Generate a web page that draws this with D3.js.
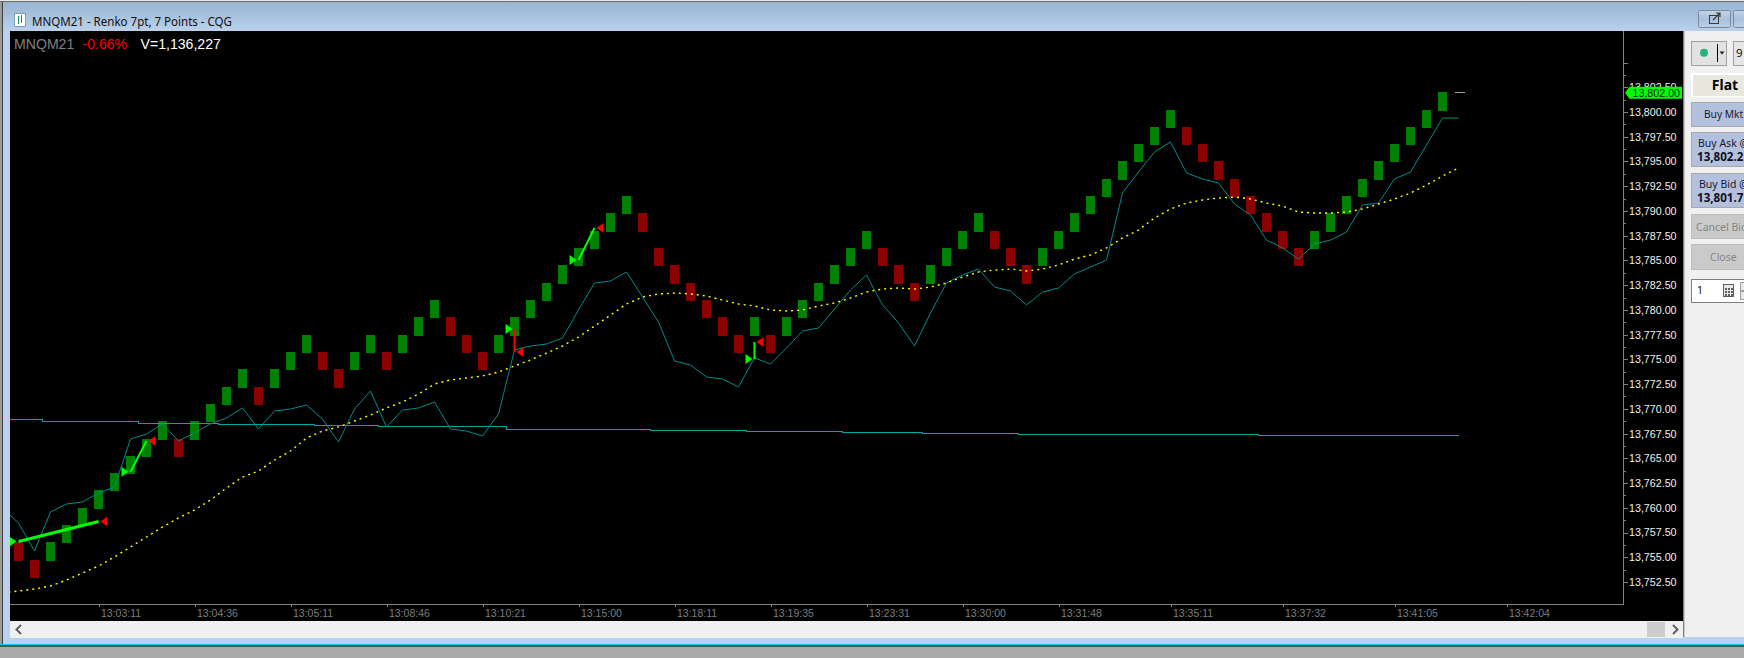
<!DOCTYPE html>
<html><head><meta charset="utf-8">
<style>html,body{margin:0;padding:0;background:#ababab;overflow:hidden}svg{display:block}</style>
<script src="https://cdn.jsdelivr.net/npm/d3@7/dist/d3.min.js"></script>
</head><body><div id="chart"></div>
<script>
// ---- chart values ----
const symbolName = "MNQM21";
const titleText = "MNQM21 - Renko 7pt, 7 Points - CQG";
const changeText = "-0.66%";
const volumeText = "V=1,136,227";
const lastPrice = 13802.00;
const brickSize = 1.75;
// top price of each Renko brick, left to right
const brickTop = [13756.5,13754.75,13756.5,13758.25,13760,13761.75,13763.5,13765.25,13767,13768.75,
13767,13768.75,13770.5,13772.25,13774,13772.25,13774,13775.75,13777.5,13775.75,
13774,13775.75,13777.5,13775.75,13777.5,13779.25,13781,13779.25,13777.5,13775.75,
13777.5,13779.25,13781,13782.75,13784.5,13786.25,13788,13789.75,13791.5,13789.75,
13786.25,13784.5,13782.75,13781,13779.25,13777.5,13779.25,13777.5,13779.25,13781,
13782.75,13784.5,13786.25,13788,13786.25,13784.5,13782.75,13784.5,13786.25,13788,
13789.75,13788,13786.25,13784.5,13786.25,13788,13789.75,13791.5,13793.25,13795,
13796.75,13798.5,13800.25,13798.5,13796.75,13795,13793.25,13791.5,13789.75,13788,
13786.25,13788,13789.75,13791.5,13793.25,13795,13796.75,13798.5,13800.25,13802];
// brick direction: 1 up (green), 0 down (red)
const brickUp = [0,0,1,1,1,1,1,1,1,1, 0,1,1,1,1,0,1,1,1,0, 0,1,1,0,1,1,1,0,0,0,
1,1,1,1,1,1,1,1,1,0, 0,0,0,0,0,0,1,0,1,1, 1,1,1,1,0,0,0,1,1,1,
1,0,0,0,1,1,1,1,1,1, 1,1,1,0,0,0,0,0,0,0, 0,1,1,1,1,1,1,1,1,1];
// fast average (thin teal), starting one slot before the first brick
const fastAverage = [13759.98,13758.46,13755.63,13759.58,13760.38,13760.59,13761.50,13762.10,13766.95,13767.46,
13768.47,13766.75,13767.56,13768.47,13769.08,13770.09,13767.96,13769.78,13769.98,13770.39,
13768.97,13766.65,13769.98,13771.80,13768.17,13769.88,13770.09,13770.69,13767.96,13767.76,
13767.26,13769.48,13775.95,13776.35,13776.55,13777.16,13779.99,13782.72,13782.92,13783.83,
13781.30,13778.78,13774.84,13774.43,13773.22,13773.02,13772.21,13775.14,13774.53,13776.15,
13777.87,13778.17,13780.09,13782.01,13783.53,13780.50,13778.68,13776.35,13779.69,13782.72,
13783.53,13784.13,13782.31,13781.91,13780.50,13781.81,13782.21,13783.63,13784.34,13785.04,
13791.81,13793.94,13795.96,13796.97,13793.84,13793.23,13792.82,13790.70,13789.59,13787.06,
13786.26,13785.14,13786.66,13787.06,13787.87,13790.60,13790.80,13793.23,13793.94,13796.66,
13799.39,13799.39];
// medium average (dotted yellow), same slots
const mediumAverage = [13751.39,13751.59,13751.79,13752.10,13752.70,13753.41,13754.12,13755.03,13756.04,13757.05,
13758.06,13758.97,13759.78,13760.79,13762.00,13763.11,13763.72,13764.83,13765.74,13767.05,
13767.76,13768.17,13768.77,13769.38,13770.09,13770.69,13771.50,13772.51,13772.92,13773.12,
13773.32,13773.72,13774.33,13774.94,13775.64,13776.35,13777.26,13778.37,13779.48,13780.60,
13781.30,13781.61,13781.71,13781.61,13781.40,13781.00,13780.60,13780.39,13779.99,13779.89,
13779.99,13780.39,13780.70,13781.20,13781.81,13782.11,13782.21,13782.11,13782.31,13782.72,
13783.32,13783.83,13784.03,13784.13,13783.93,13784.13,13784.54,13785.14,13785.55,13786.26,
13787.27,13788.07,13789.29,13790.20,13790.80,13791.11,13791.31,13791.41,13791.21,13790.80,
13790.50,13789.89,13789.79,13789.79,13789.89,13790.20,13790.70,13791.21,13791.81,13792.62,
13793.53,13794.34];
// slow average (flat cyan): brick slot where each level starts, and the level
const slowSlots = [-1,1.5,6.5,7.5,12.5,18.5,22.5,30.5,39.5,45.5,51.5,56.5,62.5,77.5,90];
const slowLevels = [13768.97,13768.77,13768.70,13768.54,13768.44,13768.34,13768.20,13767.93,13767.83,13767.73,13767.63,13767.53,13767.43,13767.33,13767.33];
// trades: entry slot/price, exit slot/price, line weight key
const tradeEntrySlot = [0,7,31,35,46];
const tradeEntryPrice = [13756.59,13763.65,13778.07,13785.04,13775.04];
const tradeExitSlot = [5,8,31,36,46];
const tradeExitPrice = [13758.62,13766.75,13775.75,13788.28,13776.76];
const tradeWin = [1,1,0,1,1];
// axes
const priceTicks = [13752.5,13755,13757.5,13760,13762.5,13765,13767.5,13770,13772.5,13775,13777.5,13780,13782.5,13785,13787.5,13790,13792.5,13795,13797.5,13800,13802.5,13805];
const priceMinorTicks = [13753.75,13756.25,13758.75,13761.25,13763.75,13766.25,13768.75,13771.25,13773.75,13776.25,13778.75,13781.25,13783.75,13786.25,13788.75,13791.25,13793.75,13796.25,13798.75,13801.25,13803.75];
const timeSlots = [5,11,17,23,29,35,41,47,53,59,65,72,79,86,93];
const timeLabels = ["13:03:11","13:04:36","13:05:11","13:08:46","13:10:21","13:15:00","13:18:11","13:19:35","13:23:31","13:30:00","13:31:48","13:35:11","13:37:32","13:41:05","13:42:04"];

// ---- drawing ----
const W = 1744, H = 658;
const plotL = 10, plotR = 1623, plotT = 31, plotB = 604;
const UI = '"Noto Sans",sans-serif', AR = '"Liberation Sans",Arial,sans-serif';
const svg = d3.select("#chart").append("svg").attr("width", W).attr("height", H);
const defs = svg.append("defs");
const grad = defs.append("linearGradient").attr("id","tb").attr("x1",0).attr("x2",0).attr("y1",0).attr("y2",1);
grad.append("stop").attr("offset",0).attr("stop-color","#99b4d1");
grad.append("stop").attr("offset",1).attr("stop-color","#b9d1ea");
const btn = defs.append("linearGradient").attr("id","bt").attr("x1",0).attr("x2",0).attr("y1",0).attr("y2",1);
btn.append("stop").attr("offset",0).attr("stop-color","#c4d5e8");
btn.append("stop").attr("offset",.5).attr("stop-color","#a9c0d9");
btn.append("stop").attr("offset",1).attr("stop-color","#bcd0e6");
defs.append("clipPath").attr("id","plot").append("rect").attr("x",plotL).attr("y",plotT).attr("width",plotR-plotL).attr("height",plotB-plotT);

function box(x,y,w,h,fill,stroke,sw){return svg.append("rect").attr("x",x).attr("y",y).attr("width",w).attr("height",h).attr("fill",fill).attr("stroke",stroke||"none").attr("stroke-width",sw||0).attr("shape-rendering","crispEdges");}
function label(x,y,t,size,fill,opts){opts=opts||{};return svg.append("text").attr("x",x).attr("y",y).text(t).attr("font-family",opts.font||UI).attr("font-size",size).attr("fill",fill).attr("font-weight",opts.weight||400).attr("text-anchor",opts.anchor||"start");}

// window chrome
box(0,0,W,H,"#ababab");
box(0,0,W,1,"#e6e6e6"); box(0,1,W,1,"#6d6d6d");
box(0,2,2,643,"#9a9a9a"); box(2,2,1,643,"#404040");
box(3,2,W-3,642,"#b9d1ea");
box(3,2,W-3,29,"url(#tb)");
box(0,644,W,1,"#12c8e0"); box(0,645,W,2,"#505050");
// title icon and text
box(14.5,13.5,11,13,"#ffffff","#7f9db9",1);
box(18,16,1,8,"#1a9a50"); box(21,15,1,8,"#1a9a50");
label(32,26,titleText,13,"#101010").attr("textLength",200).attr("lengthAdjust","spacingAndGlyphs");
// title bar button
svg.append("rect").attr("x",1698.5).attr("y",10.5).attr("width",32).attr("height",17).attr("rx",2).attr("fill","url(#bt)").attr("stroke","#7a8a9c");
svg.append("rect").attr("x",1733.5).attr("y",10.5).attr("width",20).attr("height",17).attr("rx",2).attr("fill","url(#bt)").attr("stroke","#7a8a9c");
box(1709.5,15.5,9,8,"none","#3a3a3a",1.2);
svg.append("path").attr("d","M1713 20 L1720 13 M1716 13 H1720 V17").attr("stroke","#3a3a3a").attr("fill","none").attr("stroke-width",1.2);

// chart area
box(plotL,plotT,1673,590,"#000000");
// scrollbar
box(plotL,621,1673,17,"#f0f0f0");
box(1647,622,18,15,"#cdcdcd");
svg.append("path").attr("d","M21 625 L16.5 629.5 L21 634").attr("fill","none").attr("stroke","#606060").attr("stroke-width",2);
svg.append("path").attr("d","M1673 625 L1677.5 629.5 L1673 634").attr("fill","none").attr("stroke","#606060").attr("stroke-width",2);

const x = d3.scaleLinear().domain([0,93]).range([18.5,1506.5]);
const y = d3.scaleLinear().domain([13752.5,13800]).range([582,112]);

// axes
const axisColor = "#808080";
const yMinor = svg.append("g").attr("transform",`translate(${plotR+.5},0)`).call(d3.axisRight(y).tickValues(priceMinorTicks).tickSize(2).tickFormat(""));
const yAxis = svg.append("g").attr("transform",`translate(${plotR+.5},0)`).call(d3.axisRight(y).tickValues(priceTicks).tickSize(4).tickPadding(2).tickFormat(d=>d===13805?"":d3.format(",.2f")(d)));
const xAxis = svg.append("g").attr("transform",`translate(0,${plotB+.5})`).call(d3.axisBottom(x).tickValues(timeSlots).tickSize(2).tickPadding(0).tickFormat((d,i)=>timeLabels[i]));
[yMinor,yAxis,xAxis].forEach(g=>{g.select(".domain").remove();g.selectAll("line").attr("stroke",axisColor).attr("shape-rendering","crispEdges");});
yAxis.selectAll("text").attr("font-family",AR).attr("font-size",10.7).attr("fill","#f0f0f0").attr("x",5.5);
xAxis.selectAll("text").attr("font-family",AR).attr("font-size",10.5).attr("fill","#7d7d7d").attr("text-anchor","start").attr("x",2).attr("y",5);
svg.append("path").attr("d",`M${plotR+.5} ${plotT} V${plotB+.5} H${plotL}`).attr("fill","none").attr("stroke",axisColor).attr("shape-rendering","crispEdges");

// header
const hdr = 49;
label(14,hdr,symbolName,14.1,"#808080",{font:AR});
label(82.5,hdr,changeText,14.1,"#ff0000",{font:AR});
label(140.5,hdr,volumeText,14.1,"#ffffff",{font:AR});

const plot = svg.append("g").attr("clip-path","url(#plot)");
// bricks
const bw = 9;
plot.append("g").selectAll("rect").data(brickTop).join("rect")
  .attr("x",(d,i)=>x(i)-bw/2).attr("width",bw)
  .attr("y",d=>Math.round(y(d)))
  .attr("height",d=>Math.round(y(d-brickSize))-Math.round(y(d))+1)
  .attr("fill",(d,i)=>brickUp[i]?"#008000":"#8b0000")
  .attr("shape-rendering","crispEdges");

const slotLine = d3.line().x((d,i)=>x(i-1)).y(d=>y(d));
plot.append("path").datum(slowSlots.map((s,i)=>[s,slowLevels[i]]))
  .attr("d",d3.line().curve(d3.curveStepAfter).x(d=>x(d[0])).y(d=>y(d[1])))
  .attr("fill","none").attr("stroke","#00a5a5").attr("stroke-width",1).attr("shape-rendering","crispEdges");
plot.append("path").datum(fastAverage).attr("d",slotLine)
  .attr("fill","none").attr("stroke","#008b8b").attr("stroke-width",1);
plot.append("path").datum(mediumAverage).attr("d",slotLine)
  .attr("fill","none").attr("stroke","#ffff00").attr("stroke-width",1.4).attr("stroke-dasharray","2 4");
// last-price dash
plot.append("line").attr("x1",x(90)-4).attr("x2",x(90)+6).attr("y1",y(lastPrice)).attr("y2",y(lastPrice)).attr("stroke","#a0a0a0").attr("shape-rendering","crispEdges");

// trades
const LIME="#00ff00", RED="#ff0000";
tradeEntrySlot.forEach((s,i)=>{
  const x0=x(s), y0=y(tradeEntryPrice[i]), x1=x(tradeExitSlot[i]), y1=y(tradeExitPrice[i]);
  plot.append("line").attr("x1",x0).attr("y1",y0).attr("x2",x1).attr("y2",y1)
    .attr("stroke",tradeWin[i]?LIME:RED).attr("stroke-width",i===0?3:2);
  const tri=(px,py,dir,c)=>plot.append("path")
    .attr("d",d3.line()([[px+dir*2,py],[px+dir*9,py-5],[px+dir*9,py+5]])+"Z").attr("fill",c);
  tri(x0,y0,-1,LIME);
  tri(x1,y1,1,RED);
});

// last price tag
const tagY = y(lastPrice);
svg.append("path").attr("d",d3.line()([[1625,tagY+.5],[1629.5,tagY-5.5],[1682,tagY-5.5],[1682,tagY+6.5],[1629.5,tagY+6.5]])+"Z").attr("fill",LIME);
svg.append("text").attr("x",1632.5).attr("y",tagY+4.5).text(d3.format(",.2f")(lastPrice)).attr("font-family",AR).attr("font-size",10.7).attr("fill","#002800");

// order panel
box(1683,31,61,606,"#f0f0f0");
box(1683,31,1,606,"#808080");
box(1684,31,1,606,"#c8c8c8");
box(1691.5,41.5,35,24,"#e2e2e2","#a0a0a0",1);
svg.append("circle").attr("cx",1704).attr("cy",52.7).attr("r",4).attr("fill","#2cb37a");
box(1717,44,1,18,"#000000");
svg.append("path").attr("d","M1719.5 51.5 h5 l-2.5 3 z").attr("fill","#202020");
box(1733.5,41.5,20,24,"#e6e6e6","#a0a0a0",1);
label(1736,57,"9",11.5,"#101010");
box(1691,73,60,24,"#ffffff");
box(1692.5,74.5,60,21,"#e8e8de");
label(1725,90,"Flat",14,"#000000",{weight:700,anchor:"middle"});
box(1691.5,102.5,60,24,"#b3c1de","#a9a9a9",1);
label(1704,118,"Buy Mkt",10.2,"#1a1a30");
box(1691.5,132.5,60,34,"#b3c1de","#a9a9a9",1);
label(1698,147,"Buy Ask @",10.5,"#1a1a30");
label(1697,161,"13,802.2",11.6,"#101020",{weight:700});
box(1691.5,173.5,60,34,"#b3c1de","#a9a9a9",1);
label(1699,188,"Buy Bid @",10.5,"#1a1a30");
label(1697,202,"13,801.7",11.6,"#101020",{weight:700});
box(1691.5,214.5,60,24,"#cacaca","#bdbdbd",1);
label(1696,231,"Cancel Bid",10.5,"#858585");
box(1691.5,244.5,60,25,"#cacaca","#bdbdbd",1);
label(1710,261,"Close",10.5,"#858585");
box(1691.5,279.5,60,23,"#ffffff","#808080",1);
label(1697,294,"1",10.5,"#101010");
box(1723.5,284.5,10,12,"#e8e8e8","#606060",1);
d3.range(3).forEach(r=>d3.range(3).forEach(c=>box(1725+c*3,288+r*3,2,2,"#606060")));
box(1740.5,282.5,8,8,"#e8e8e8","#a0a0a0",1);
box(1740.5,291.5,8,8,"#e8e8e8","#a0a0a0",1);
</script></body></html>
